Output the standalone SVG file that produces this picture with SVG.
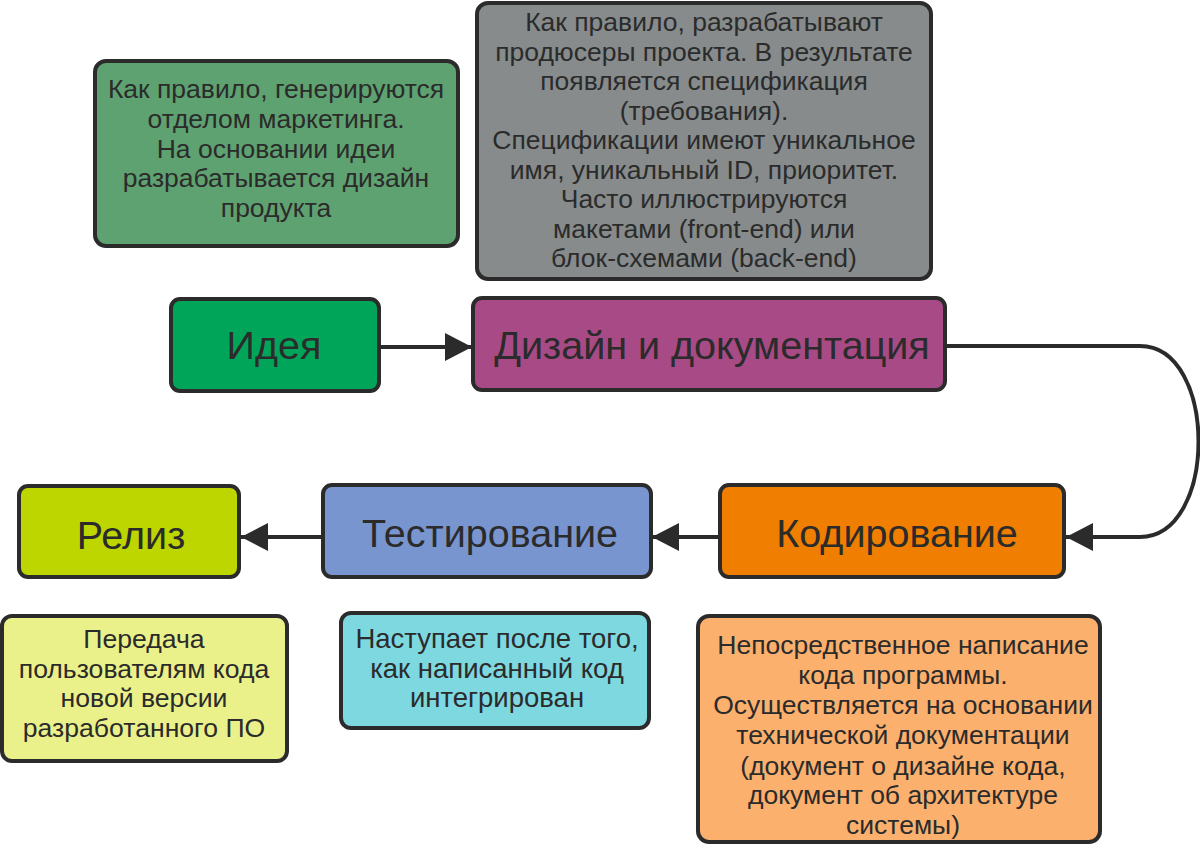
<svg xmlns="http://www.w3.org/2000/svg" width="1200" height="846" viewBox="0 0 1200 846">
<defs>
<marker id="ah" markerUnits="userSpaceOnUse" markerWidth="28" markerHeight="30" viewBox="0 0 28 30" refX="27" refY="15" orient="auto">
<path d="M0,1 L27,15 L0,29 Z" fill="#2b2b2b"/>
</marker>
<style>
.box{stroke:#2b2b2b;stroke-width:4}
.lbl{font-family:"Liberation Sans",Arial,sans-serif;font-size:39.5px;fill:#2b2b2b;text-anchor:middle}
.note{font-family:"Liberation Sans",Arial,sans-serif;font-size:26.5px;fill:#2b2b2b;text-anchor:middle}
.n2{font-size:27.5px}
.n3{font-size:26.6px}
.con{fill:none;stroke:#2b2b2b;stroke-width:4;marker-end:url(#ah)}
</style>
</defs>
<rect width="1200" height="846" fill="#ffffff"/>
<g id="connectors">
<path class="con" d="M379,347 H472"/>
<path class="con" d="M945,346 H1140 C1218,346 1218,537 1140,537 H1066"/>
<path class="con" d="M720,537 H652"/>
<path class="con" d="M323,537 H241"/>
</g>
<g id="note-idea">
<rect class="box" x="95" y="61" width="363" height="185" rx="11" fill="#5fa271"/>
<text class="note" x="276" y="98">Как правило, генерируются</text>
<text class="note" x="276" y="128">отделом маркетинга.</text>
<text class="note" x="276" y="158">На основании идеи</text>
<text class="note" x="276" y="187">разрабатывается дизайн</text>
<text class="note" x="276" y="217">продукта</text>
</g>
<g id="note-design">
<rect class="box" x="477" y="3" width="454" height="276" rx="11" fill="#878b8b"/>
<text class="note" x="704" y="31">Как правило, разрабатывают</text>
<text class="note" x="704" y="61">продюсеры проекта. В результате</text>
<text class="note" x="704" y="90">появляется спецификация</text>
<text class="note" x="704" y="120">(требования).</text>
<text class="note" x="704" y="149">Спецификации имеют уникальное</text>
<text class="note" x="704" y="179">имя, уникальный ID, приоритет.</text>
<text class="note" x="704" y="208">Часто иллюстрируются</text>
<text class="note" x="704" y="238">макетами (front-end) или</text>
<text class="note" x="704" y="267">блок-схемами (back-end)</text>
</g>
<g id="idea">
<rect class="box" x="171" y="299" width="208" height="92" rx="9" fill="#00a55a"/>
<text class="lbl" x="274" y="359">Идея</text>
</g>
<g id="design">
<rect class="box" x="473" y="298" width="472" height="92" rx="9" fill="#a84a86"/>
<text class="lbl" x="712" y="359">Дизайн и документация</text>
</g>
<g id="release">
<rect class="box" x="19" y="486" width="220" height="91" rx="9" fill="#bdd600"/>
<text class="lbl" x="131" y="549">Релиз</text>
</g>
<g id="testing">
<rect class="box" x="323" y="485" width="328" height="92" rx="9" fill="#7895d0"/>
<text class="lbl" x="490" y="547">Тестирование</text>
</g>
<g id="coding">
<rect class="box" x="720" y="485" width="344" height="92" rx="9" fill="#f07e00"/>
<text class="lbl" x="897" y="547">Кодирование</text>
</g>
<g id="note-release">
<rect class="box" x="2" y="616" width="285" height="145" rx="10" fill="#ebf18a"/>
<text class="note n3" x="144" y="648">Передача</text>
<text class="note n3" x="144" y="678">пользователям кода</text>
<text class="note n3" x="144" y="707">новой версии</text>
<text class="note n3" x="144" y="737">разработанного ПО</text>
</g>
<g id="note-testing">
<rect class="box" x="341" y="613" width="308" height="115" rx="10" fill="#7dd8e0"/>
<text class="note n2" x="497" y="648">Наступает после того,</text>
<text class="note n2" x="497" y="678">как написанный код</text>
<text class="note n2" x="497" y="707">интегрирован</text>
</g>
<g id="note-coding">
<rect class="box" x="698" y="616" width="402" height="226" rx="11" fill="#fcb06e"/>
<text class="note" x="903" y="654">Непосредственное написание</text>
<text class="note" x="903" y="684">кода программы.</text>
<text class="note" x="903" y="714">Осуществляется на основании</text>
<text class="note" x="903" y="744">технической документации</text>
<text class="note" x="903" y="775">(документ о дизайне кода,</text>
<text class="note" x="903" y="804">документ об архитектуре</text>
<text class="note" x="903" y="834">системы)</text>
</g>
</svg>
